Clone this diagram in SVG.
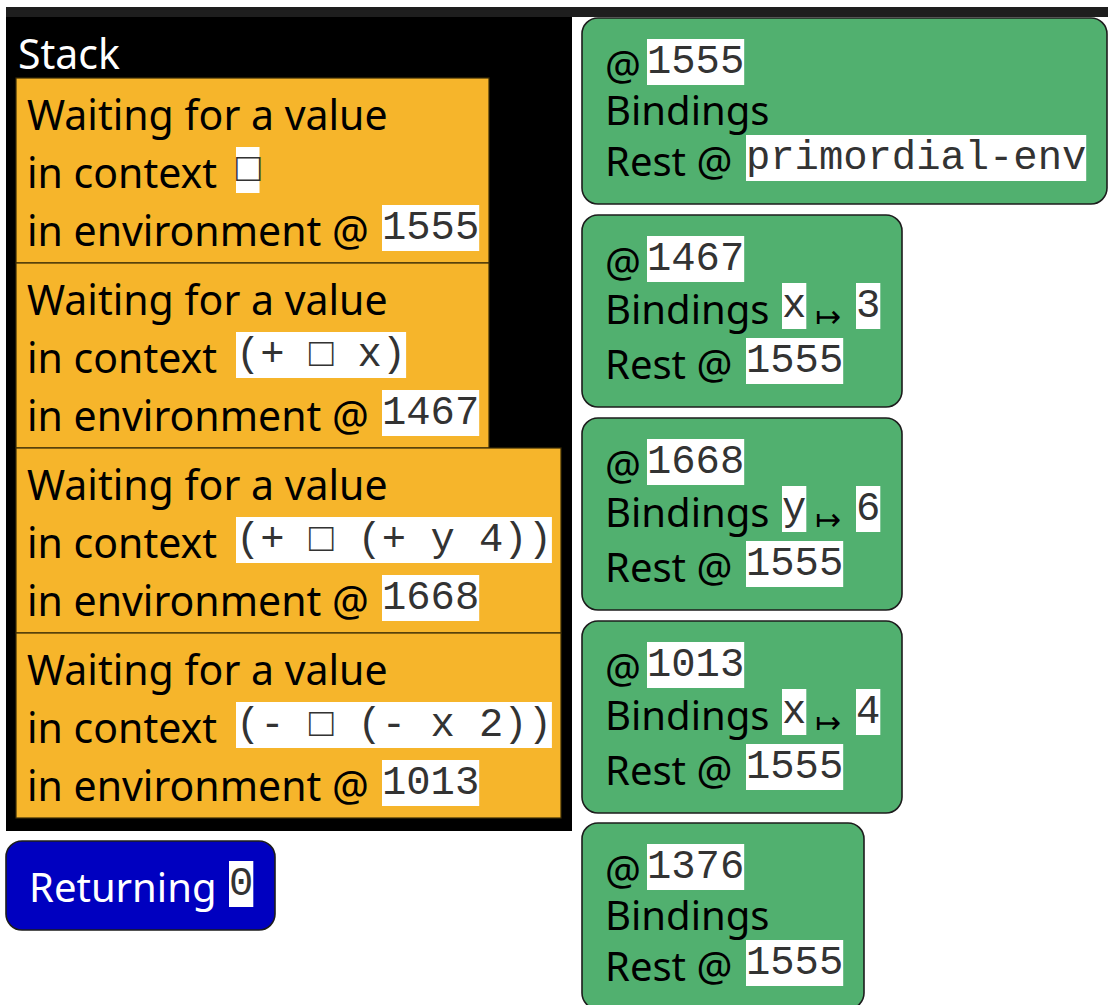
<svg xmlns="http://www.w3.org/2000/svg" width="1108" height="1005" viewBox="0 0 1108 1005">
  <style>
    .sans { font-family: "Noto Sans", "DejaVu Sans", sans-serif; font-size: 41px; fill: #000; }
    .small { font-size: 40px; }
    .light { fill: #fff; }
    .mono { font-family: "Liberation Mono", "DejaVu Sans Mono", monospace; font-size: 40.5px; fill: #333; }
    .arrow { font-family: "DejaVu Sans", sans-serif; font-size: 31px; fill: #000; }
    .val { fill: #fff; }
    .frame { fill: #F6B52B; stroke: #3a2c06; stroke-width: 1.2; }
    .env { fill: #51B06F; stroke: #1c1c1c; stroke-width: 1.6; }
    .ret { fill: #0000C0; stroke: #1c1c1c; stroke-width: 1.6; }
  </style>

  <!-- top strip -->
  <rect x="6" y="7" width="1102" height="10" fill="#1e1e1e"/>

  <!-- stack panel -->
  <g id="stack">
    <rect x="6" y="17" width="566" height="814" fill="#000"/>
    <text class="sans light" x="18" y="69">Stack</text>

    <g id="frame-1555">
      <rect class="frame" x="16" y="78" width="473" height="185"/>
      <text class="sans" x="27" y="130">Waiting for a value</text>
      <text class="sans" x="27" y="188">in context</text>
      <rect class="val" x="236" y="147" width="23.5" height="46"/>
      <text class="mono" x="236" y="180.7">□</text>
      <text class="sans" x="27" y="246">in environment @</text>
      <rect class="val" x="382" y="205" width="97.2" height="46"/>
      <text class="mono" x="382" y="238.7">1555</text>
    </g>

    <g id="frame-1467">
      <rect class="frame" x="16" y="263" width="473" height="185"/>
      <text class="sans" x="27" y="315">Waiting for a value</text>
      <text class="sans" x="27" y="373">in context</text>
      <rect class="val" x="236" y="332" width="170.1" height="46"/>
      <text class="mono" x="236" y="365.7" xml:space="preserve">(+ □ x)</text>
      <text class="sans" x="27" y="431">in environment @</text>
      <rect class="val" x="382" y="390" width="97.2" height="46"/>
      <text class="mono" x="382" y="423.7">1467</text>
    </g>

    <g id="frame-1668">
      <rect class="frame" x="16" y="448" width="545" height="185"/>
      <text class="sans" x="27" y="500">Waiting for a value</text>
      <text class="sans" x="27" y="558">in context</text>
      <rect class="val" x="236" y="517" width="315.9" height="46"/>
      <text class="mono" x="236" y="550.7" xml:space="preserve">(+ □ (+ y 4))</text>
      <text class="sans" x="27" y="616">in environment @</text>
      <rect class="val" x="382" y="575" width="97.2" height="46"/>
      <text class="mono" x="382" y="608.7">1668</text>
    </g>

    <g id="frame-1013">
      <rect class="frame" x="16" y="633" width="545" height="185"/>
      <text class="sans" x="27" y="685">Waiting for a value</text>
      <text class="sans" x="27" y="743">in context</text>
      <rect class="val" x="236" y="702" width="315.9" height="46"/>
      <text class="mono" x="236" y="735.7" xml:space="preserve">(- □ (- x 2))</text>
      <text class="sans" x="27" y="801">in environment @</text>
      <rect class="val" x="382" y="760" width="97.2" height="46"/>
      <text class="mono" x="382" y="793.7">1013</text>
    </g>
  </g>

  <!-- returned value -->
  <g id="returning">
    <rect class="ret" x="6" y="841" width="269" height="89" rx="16"/>
    <text class="sans small light" x="29" y="902">Returning</text>
    <rect class="val" x="229" y="861" width="24.3" height="46"/>
    <text class="mono" x="229" y="894.7">0</text>
  </g>

  <!-- environments -->
  <g id="env-1555">
    <rect class="env" x="582" y="18" width="525" height="186" rx="16"/>
    <text class="sans small" x="605" y="80">@</text>
    <rect class="val" x="647" y="39" width="97.2" height="46"/>
    <text class="mono" x="647" y="72.7">1555</text>
    <text class="sans small" x="605" y="125">Bindings</text>
    <text class="sans small" x="605" y="176">Rest @</text>
    <rect class="val" x="746" y="135" width="340.2" height="46"/>
    <text class="mono" x="746" y="168.7">primordial-env</text>
  </g>

  <g id="env-1467">
    <rect class="env" x="582" y="215" width="320" height="192" rx="16"/>
    <text class="sans small" x="605" y="277">@</text>
    <rect class="val" x="647" y="236" width="97.2" height="46"/>
    <text class="mono" x="647" y="269.7">1467</text>
    <text class="sans small" x="605" y="324">Bindings</text>
    <rect class="val" x="782" y="283" width="24.3" height="46"/>
    <text class="mono" x="782" y="316.7">x</text>
    <text class="arrow" x="815" y="327">↦</text>
    <rect class="val" x="856" y="283" width="24.3" height="46"/>
    <text class="mono" x="856" y="316.7">3</text>
    <text class="sans small" x="605" y="379">Rest @</text>
    <rect class="val" x="746" y="338" width="97.2" height="46"/>
    <text class="mono" x="746" y="371.7">1555</text>
  </g>

  <g id="env-1668">
    <rect class="env" x="582" y="418" width="320" height="192" rx="16"/>
    <text class="sans small" x="605" y="480">@</text>
    <rect class="val" x="647" y="439" width="97.2" height="46"/>
    <text class="mono" x="647" y="472.7">1668</text>
    <text class="sans small" x="605" y="527">Bindings</text>
    <rect class="val" x="782" y="486" width="24.3" height="46"/>
    <text class="mono" x="782" y="519.7">y</text>
    <text class="arrow" x="815" y="530">↦</text>
    <rect class="val" x="856" y="486" width="24.3" height="46"/>
    <text class="mono" x="856" y="519.7">6</text>
    <text class="sans small" x="605" y="582">Rest @</text>
    <rect class="val" x="746" y="541" width="97.2" height="46"/>
    <text class="mono" x="746" y="574.7">1555</text>
  </g>

  <g id="env-1013">
    <rect class="env" x="582" y="621" width="320" height="192" rx="16"/>
    <text class="sans small" x="605" y="683">@</text>
    <rect class="val" x="647" y="642" width="97.2" height="46"/>
    <text class="mono" x="647" y="675.7">1013</text>
    <text class="sans small" x="605" y="730">Bindings</text>
    <rect class="val" x="782" y="689" width="24.3" height="46"/>
    <text class="mono" x="782" y="722.7">x</text>
    <text class="arrow" x="815" y="733">↦</text>
    <rect class="val" x="856" y="689" width="24.3" height="46"/>
    <text class="mono" x="856" y="722.7">4</text>
    <text class="sans small" x="605" y="785">Rest @</text>
    <rect class="val" x="746" y="744" width="97.2" height="46"/>
    <text class="mono" x="746" y="777.7">1555</text>
  </g>

  <g id="env-1376">
    <rect class="env" x="582" y="823" width="282" height="186" rx="16"/>
    <text class="sans small" x="605" y="885">@</text>
    <rect class="val" x="647" y="844" width="97.2" height="46"/>
    <text class="mono" x="647" y="877.7">1376</text>
    <text class="sans small" x="605" y="930">Bindings</text>
    <text class="sans small" x="605" y="981">Rest @</text>
    <rect class="val" x="746" y="940" width="97.2" height="46"/>
    <text class="mono" x="746" y="973.7">1555</text>
  </g>
</svg>
